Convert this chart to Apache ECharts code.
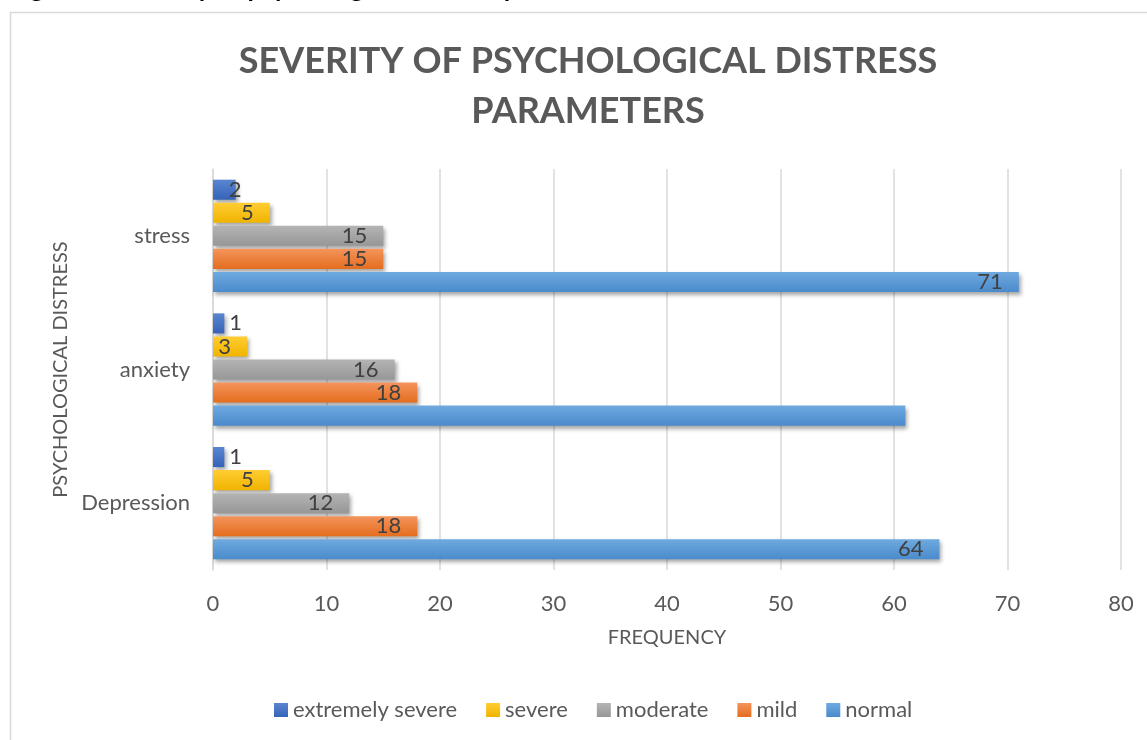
<!DOCTYPE html>
<html>
<head>
<meta charset="utf-8">
<title>Severity of psychological distress parameters</title>
<script src="https://cdn.jsdelivr.net/npm/echarts@6/dist/echarts.min.js"></script>
<style>
  html, body { margin: 0; padding: 0; background: #ffffff; }
  #chart { width: 1147px; height: 740px; }
</style>
</head>
<body>
<div id="chart"></div>
<script>
// Categories run bottom-to-top on the vertical axis
const categories = ['Depression', 'anxiety', 'stress'];

// Frequencies per severity level (Depression, anxiety, stress)
const normal = [64, 61, 71];
const mild = [18, 18, 15];
const moderate = [12, 16, 15];
const severe = [5, 3, 5];
const extremelySevere = [1, 1, 2];

const xTicks = [0, 10, 20, 30, 40, 50, 60, 70, 80];
const legendOrder = ['extremely severe', 'severe', 'moderate', 'mild', 'normal'];

// Points whose value label is left off
const unlabelled = [{ series: 'normal', category: 'anxiety' }];

const FONT = 'Lato';
const grad = (top, bottom) => new echarts.graphic.LinearGradient(0, 0, 0, 1, [
  { offset: 0, color: top }, { offset: 1, color: bottom }
]);

function makeSeries(name, values, top, bottom) {
  return {
    name: name,
    type: 'bar',
    barGap: '15%',
    barCategoryGap: '16%',
    itemStyle: {
      color: grad(top, bottom),
      shadowColor: 'rgba(0,0,0,0.35)',
      shadowBlur: 4,
      shadowOffsetX: 2,
      shadowOffsetY: 3
    },
    data: values.map((v, i) => {
      const hidden = unlabelled.some(u => u.series === name && u.category === categories[i]);
      let label;
      if (hidden) {
        label = { show: false };
      } else if (v <= 2) {
        label = { show: true, position: 'right', distance: 5, offset: [v === 1 ? 0 : -12, 0] };
      } else {
        label = { show: true, position: 'insideRight', distance: 16 };
      }
      return { value: v, label: label };
    }),
    label: {
      color: '#404040',
      fontFamily: FONT,
      fontSize: 22
    }
  };
}

const chart = echarts.init(document.getElementById('chart'), null, { renderer: 'canvas' });

chart.setOption({
  backgroundColor: '#ffffff',
  animation: false,
  graphic: [
    {
      type: 'rect',
      shape: { x: 10.5, y: 12.5, width: 1200, height: 800 },
      style: { fill: null, stroke: '#d9d9d9', lineWidth: 1.5 },
      silent: true
    },
    {
      type: 'text',
      x: 9,
      y: -11,
      style: {
        text: 'Figure 4: Severity of psychological distress parameters',
        font: 'bold 26px Lato',
        fill: '#000000',
        verticalAlign: 'middle'
      },
      silent: true
    }
  ],
  title: {
    text: 'SEVERITY OF PSYCHOLOGICAL DISTRESS\nPARAMETERS',
    left: 583,
    textAlign: 'center',
    top: 31,
    textStyle: {
      fontFamily: FONT,
      fontWeight: 'bold',
      fontSize: 36,
      lineHeight: 50,
      color: '#595959'
    }
  },
  legend: {
    data: legendOrder,
    left: 269,
    top: 694,
    itemWidth: 14,
    itemHeight: 14,
    itemGap: 29,
    icon: 'rect',
    textStyle: { fontFamily: FONT, fontSize: 22, color: '#595959' }
  },
  grid: { left: 213, right: 26, top: 169, bottom: 170, containLabel: false },
  xAxis: {
    type: 'value',
    min: xTicks[0],
    max: xTicks[xTicks.length - 1],
    interval: xTicks[1] - xTicks[0],
    name: 'FREQUENCY',
    nameLocation: 'middle',
    nameGap: 58,
    nameTextStyle: { fontFamily: FONT, fontSize: 20, color: '#595959' },
    axisLine: { show: false },
    axisTick: { show: false },
    axisLabel: { margin: 23, fontFamily: FONT, fontSize: 22, color: '#595959' },
    splitLine: { show: true, lineStyle: { color: '#d9d9d9', width: 1.5 } }
  },
  yAxis: {
    type: 'category',
    data: categories,
    name: 'PSYCHOLOGICAL DISTRESS',
    nameLocation: 'middle',
    nameGap: 142,
    nameRotate: 90,
    nameTextStyle: { fontFamily: FONT, fontSize: 20, color: '#595959' },
    axisLine: { show: true, lineStyle: { color: '#d9d9d9', width: 1.5 } },
    axisTick: { show: false },
    axisLabel: { margin: 23, fontFamily: FONT, fontSize: 22, color: '#595959' },
    splitLine: { show: false }
  },
  // Within each category the first series sits at the top of the band
  series: [
    makeSeries('extremely severe', extremelySevere, '#5a86d1', '#3563b7'),
    makeSeries('severe', severe, '#ffcd33', '#f0b400'),
    makeSeries('moderate', moderate, '#b4b4b4', '#979797'),
    makeSeries('mild', mild, '#f4945c', '#e46d1e'),
    makeSeries('normal', normal, '#6fa9df', '#4a8bcc')
  ]
});
</script>
</body>
</html>
